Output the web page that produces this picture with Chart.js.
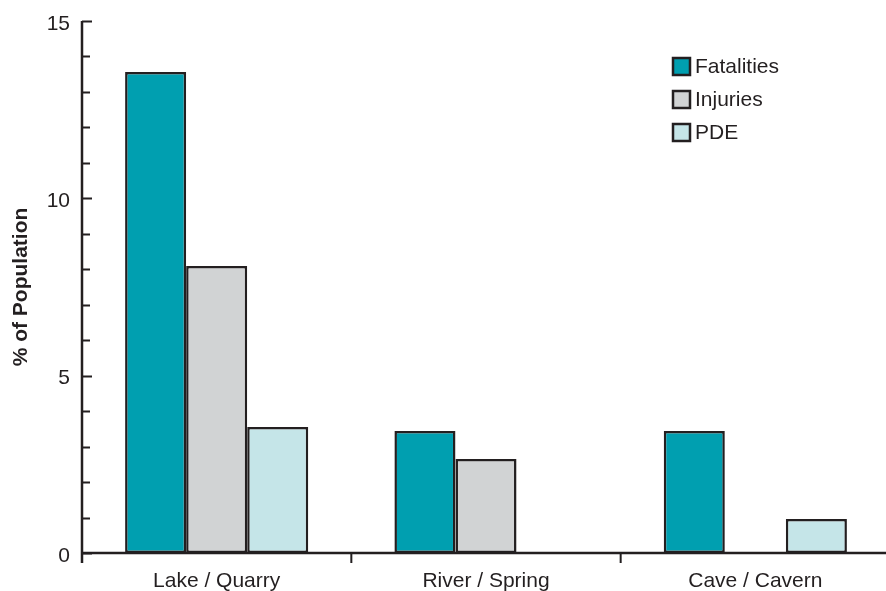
<!DOCTYPE html>
<html>
<head>
<meta charset="utf-8">
<script src="https://cdn.jsdelivr.net/npm/chart.js@4"></script>
<style>
  html, body { margin: 0; padding: 0; background: #fff; overflow: hidden; }
  #wrap { width: 886px; height: 591px; overflow: hidden; }
</style>
</head>
<body>
<div id="wrap"><canvas id="bar-chart" width="890" height="591"></canvas></div>
<script>
// Chart data
const categories = ['Lake / Quarry', 'River / Spring', 'Cave / Cavern'];
const fatalities = [13.56, 3.44, 3.44];
const injuries = [8.09, 2.65, 0];
const pde = [3.55, 0, 0.96];
const yTicks = [0, 5, 10, 15];

const ink = '#231f20';
const fontFamily = '"Liberation Sans", Arial, sans-serif';

// Draws the axes, inward tick marks and the legend
const axisPlugin = {
  id: 'axisPlugin',
  afterDraw(chart) {
    const ctx = chart.ctx;
    const x = chart.scales.x;
    const y = chart.scales.y;
    const area = chart.chartArea;
    ctx.save();
    ctx.strokeStyle = ink;
    ctx.lineWidth = 2.5;
    ctx.beginPath();
    // y axis (runs a little below zero)
    ctx.moveTo(area.left, area.top);
    ctx.lineTo(area.left, area.bottom + 10);
    // x axis
    ctx.moveTo(area.left, area.bottom);
    ctx.lineTo(area.right + 4, area.bottom);
    ctx.stroke();

    // y ticks, every unit, pointing into the plot
    ctx.lineWidth = 2;
    ctx.beginPath();
    for (let v = 0; v <= 15; v++) {
      const py = Math.round(y.getPixelForValue(v)) + 0.5;
      const len = v % 5 === 0 ? 10 : 8;
      ctx.moveTo(area.left, py);
      ctx.lineTo(area.left + len, py);
    }
    // category boundary ticks below the x axis
    for (let i = 1; i < categories.length; i++) {
      const px = (x.getPixelForValue(i - 1) + x.getPixelForValue(i)) / 2;
      ctx.moveTo(px, area.bottom);
      ctx.lineTo(px, area.bottom + 10);
    }
    ctx.stroke();

    // legend
    const lx = 672, ly = 57, box = 19, gap = 33;
    ctx.font = '21px ' + fontFamily;
    ctx.textBaseline = 'middle';
    ctx.textAlign = 'left';
    chart.data.datasets.forEach((ds, i) => {
      const top = ly + i * gap;
      ctx.fillStyle = ds.backgroundColor;
      ctx.fillRect(lx, top, box, box);
      ctx.lineWidth = 2.5;
      ctx.strokeStyle = ink;
      ctx.strokeRect(lx + 1, top + 1, box - 2, box - 2);
      ctx.fillStyle = ink;
      ctx.fillText(ds.label, lx + box + 4, top + box / 2 + 1);
    });
    ctx.restore();
  }
};

const barCtx = document.getElementById('bar-chart').getContext('2d');

const barChart = new Chart(barCtx, {
  type: 'bar',
  data: {
    labels: categories,
    datasets: [
      { label: 'Fatalities', data: fatalities, backgroundColor: '#009fb0' },
      { label: 'Injuries', data: injuries, backgroundColor: '#d1d3d4' },
      { label: 'PDE', data: pde, backgroundColor: '#c5e5e8' }
    ]
  },
  options: {
    responsive: false,
    animation: false,
    layout: { padding: { top: 21, left: 0, right: 0, bottom: 0 } },
    datasets: {
      bar: {
        borderColor: ink,
        borderWidth: 2.5,
        borderSkipped: false,
        categoryPercentage: 0.68,
        barPercentage: 1
      }
    },
    plugins: {
      legend: { display: false },
      tooltip: { enabled: false }
    },
    scales: {
      x: {
        grid: { display: false, drawTicks: false },
        border: { display: false },
        ticks: {
          color: ink,
          padding: 16,
          font: { family: fontFamily, size: 21 }
        },
        afterFit(scale) {
          scale.height = 38;
          scale.paddingLeft = 0;
          scale.paddingRight = 0;
        }
      },
      y: {
        min: 0,
        max: 15,
        afterBuildTicks(scale) { scale.ticks = yTicks.map(v => ({ value: v })); },
        grid: { display: false, drawTicks: false },
        border: { display: false },
        ticks: {
          color: ink,
          padding: 12,
          labelOffset: 3,
          font: { family: fontFamily, size: 21 }
        },
        title: {
          display: true,
          text: '% of Population',
          color: ink,
          padding: { top: 9, bottom: 0 },
          font: { family: fontFamily, size: 21, weight: 'bold' }
        },
        afterFit(scale) {
          scale.width = 82;
          scale.paddingTop = 0;
          scale.paddingBottom = 0;
        }
      }
    }
  },
  plugins: [axisPlugin]
});
</script>
</body>
</html>
